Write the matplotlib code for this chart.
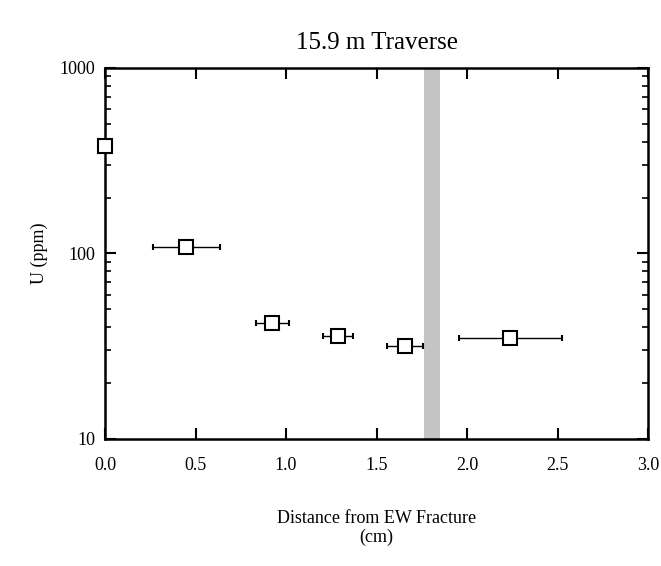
import matplotlib
matplotlib.use("Agg")
import matplotlib.pyplot as plt
from matplotlib.ticker import FixedLocator, LogLocator, NullFormatter

plt.rcParams['font.family'] = ['Liberation Serif', 'DejaVu Serif']

# U concentration along the 15.9 m traverse
distance = [0.0, 0.447, 0.923, 1.285, 1.659, 2.238]
u_ppm = [380, 109, 42.4, 35.9, 31.7, 35.2]
dist_lo = [0.0, 0.263, 0.833, 1.206, 1.56, 1.957]
dist_hi = [0.0, 0.635, 1.018, 1.368, 1.759, 2.523]
fracture_zone = (1.764, 1.851)

xerr = [[d - lo for d, lo in zip(distance, dist_lo)],
        [hi - d for d, hi in zip(distance, dist_hi)]]

fig = plt.figure(figsize=(6.61, 5.66), dpi=100)
ax = fig.add_axes([0.1589, 0.2244, 0.8215, 0.6555])

ax.axvspan(*fracture_zone, facecolor='#c4c4c4', edgecolor='none', zorder=1)
ax.errorbar(distance, u_ppm, xerr=xerr, fmt='s', color='black',
            mfc='white', mec='black', ms=10, mew=1.5,
            elinewidth=1.0, capsize=2, capthick=1.0, zorder=3, clip_on=False)

ax.set_yscale('log')
ax.set_xlim(0, 3.0)
ax.set_ylim(10, 1000)
ax.xaxis.set_major_locator(FixedLocator([0, 0.5, 1.0, 1.5, 2.0, 2.5, 3.0]))
ax.set_xticklabels(['0.0', '0.5', '1.0', '1.5', '2.0', '2.5', '3.0'])
ax.yaxis.set_major_locator(FixedLocator([10, 100, 1000]))
ax.set_yticklabels(['10', '100', '1000'])
ax.yaxis.set_minor_locator(LogLocator(base=10, subs=range(2, 10)))
ax.yaxis.set_minor_formatter(NullFormatter())

for s in ax.spines.values():
    s.set_linewidth(1.8)
ax.tick_params(which='major', direction='in', length=8, width=1.5,
               top=True, right=True, labelsize=13)
ax.tick_params(axis='x', which='major', pad=13)
ax.tick_params(axis='y', which='major', pad=7)
ax.tick_params(which='minor', direction='in', length=4, width=1.2,
               top=True, right=True)

ax.set_title('15.9 m Traverse', fontsize=18, pad=14)
ax.set_ylabel('U (ppm)', fontsize=13, labelpad=8)
ax.set_xlabel('Distance from EW Fracture\n(cm)', fontsize=13, labelpad=26,
              linespacing=1.1)

fig.savefig('out.png', dpi=100)
